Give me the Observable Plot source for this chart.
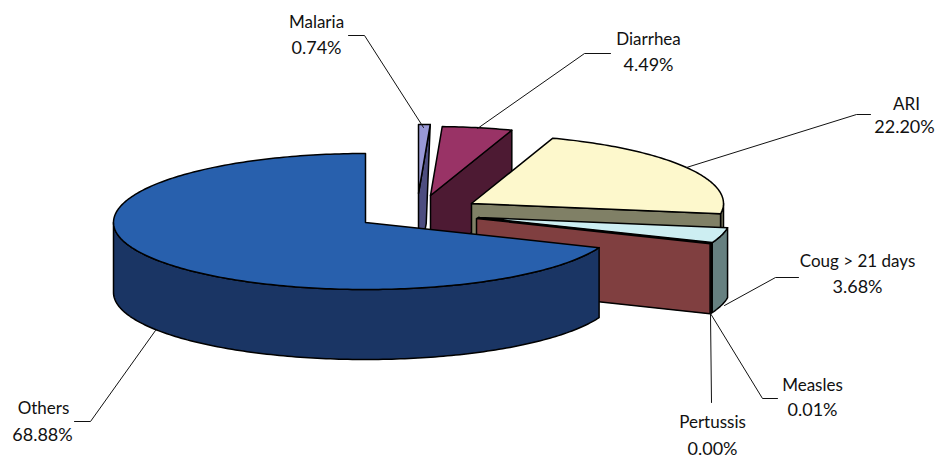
<!DOCTYPE html>
<html><head><meta charset="utf-8">
<script src="https://cdn.jsdelivr.net/npm/d3@7"></script>
<script src="https://cdn.jsdelivr.net/npm/@observablehq/plot@0.6"></script>
<style>html,body{margin:0;padding:0;background:#fff}svg{display:block}</style>
</head><body><div id="chart"></div>
<script>
// data: share of each cause, clockwise from 12 o'clock
const names = ["Malaria","Diarrhea","ARI","Coug > 21 days","Measles","Pertussis","Others"];
const shares = [0.74,4.49,22.20,3.68,0.01,0.00,68.88];
const shareLabels = ["0.74%","4.49%","22.20%","3.68%","0.01%","0.00%","68.88%"];
const topColors = ["#9999d6","#993366","#fdf8cc","#cdeef2","#ff8080","#ff8080","#2860ad"];
const sideColors = ["#4d4d80","#4d1a33","#808066","#668080","#803f40","#803f40","#1a3564"];
// exploded slice apexes
const apexX = [418,430,471,478,477,476,365];
const apexY = [193,195,203,217,217.5,218,222];
const rx = 252, ryBack = 69, ryFront = 67, depth = 70;
// the lower corner of a cut face leans in slightly on the thin slice
const cutInset = [4,0,0,0,0,0,0], cutExtra = [29,0,0,0,0,0,0];
// text and leader layout
const nameX = [316,648,906,857,812,712,43], nameY = [22,39,104,261,385,422,408];
const pctX = [316,648,904,857,812,712,42], pctY = [48,65,127,287,410,449,435];
const leaders = [
  [[348,35],[364,35],[423,127]],
  [[477,128],[584,53],[610,53]],
  [[686,167],[856,114],[870,114]],
  [[724,305],[775,277],[798,277]],
  [[710,313],[762,398],[777,398]],
  [[710,313],[711,402]],
  [[155,330],[90,421],[74,421]]
];

const arcs = d3.pie().sort(null).startAngle(0).endAngle(2*Math.PI)(shares);
const rad = Math.PI/180;
const faces = [];
function addFace(id, color, pts){
  [...pts, pts[0]].forEach(p => faces.push({id, color, x:p[0], y:p[1]}));
}
arcs.forEach((a,i)=>{
  const cx = apexX[i], cy = apexY[i];
  const pt = (t,d=0)=>{
    const c = Math.cos(t);
    return [cx+rx*Math.sin(t), cy-(c>0?ryBack:ryFront)*c+d];
  };
  const sweep = (t0,t1)=>{
    const n = Math.max(1,Math.ceil((t1-t0)/rad));
    return d3.range(n+1).map(k=>t0+(t1-t0)*k/n);
  };
  // outer rim, only the part that faces the viewer
  const r0 = Math.max(a.startAngle, 90*rad), r1 = Math.min(a.endAngle, 270*rad);
  if (r1 > r0) {
    const s = sweep(r0,r1);
    addFace(`rim${i}`, sideColors[i], [...s.map(t=>pt(t)), ...s.slice().reverse().map(t=>pt(t,depth))]);
  }
  // cut face at the clockwise end of the slice
  if (a.endAngle < Math.PI) {
    const low = pt(a.endAngle,depth+cutExtra[i]);
    addFace(`cut${i}`, sideColors[i], [[cx,cy], pt(a.endAngle), [low[0]-cutInset[i],low[1]], [cx,cy+depth]]);
  }
  // top
  if (a.endAngle - a.startAngle > 0.01) {
    addFace(`top${i}`, topColors[i], [[cx,cy], ...sweep(a.startAngle,a.endAngle).map(t=>pt(t))]);
  }
});
const leaderRows = leaders.flatMap((l,i)=>l.map(p=>({i,x:p[0],y:p[1]})));
const font = "'Comic Sans MS','Lato',sans-serif";
const chart = Plot.plot({
  width:939, height:459, margin:0,
  x:{domain:[0,939], range:[0,939], axis:null},
  y:{domain:[0,459], range:[0,459], axis:null},
  color:{type:"identity"},
  marks:[
    Plot.line(faces,{x:"x",y:"y",z:"id",fill:"color",stroke:"#000",strokeWidth:1.5,strokeLinejoin:"round",curve:"linear"}),
    Plot.line(leaderRows,{x:"x",y:"y",z:"i",stroke:"#111",strokeWidth:1,curve:"linear"}),
    Plot.text(names,{x:(d,i)=>nameX[i],y:(d,i)=>nameY[i],text:d=>d,fontSize:17,fontFamily:font,fill:"#111"}),
    Plot.text(shareLabels,{x:(d,i)=>pctX[i],y:(d,i)=>pctY[i],text:d=>d,fontSize:18,fontFamily:font,fill:"#111"})
  ]
});
document.getElementById("chart").append(chart);
</script></body></html>
